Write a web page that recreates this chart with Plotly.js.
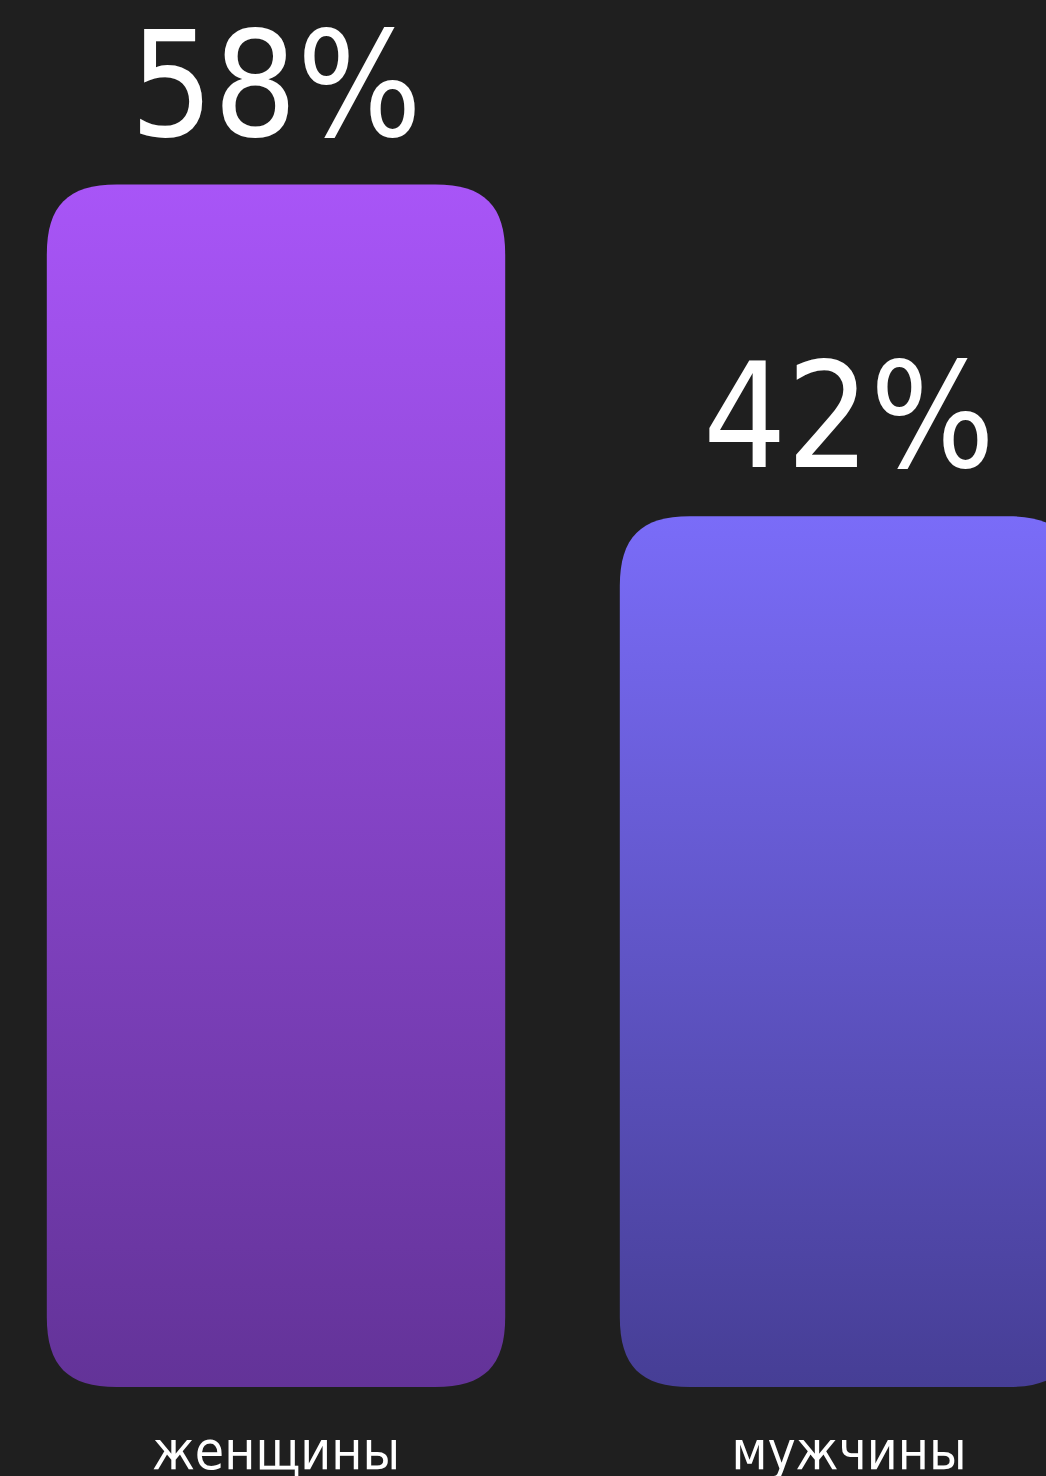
<!DOCTYPE html>
<html>
<head>
<meta charset="utf-8">
<script src="https://cdn.plot.ly/plotly-3.0.1.min.js"></script>
<style>
  html, body { margin: 0; padding: 0; background: #1f1f1f; }
  #chart { width: 1046px; height: 1476px; }
</style>
</head>
<body>
<div id="chart"></div>
<script>
// ---- data ----
var categories = ['женщины', 'мужчины'];
var values = [58, 42];
var valueLabels = ['58%', '42%'];

// ---- styles ----
var gradTop = ['#a855f7', '#7a6cf8'];
var gradBottom = ['#633398', '#463e95'];
var BG = '#1f1f1f';
var FONT = '"DejaVu Sans Condensed", "DejaVu Sans", sans-serif';

var gd = document.getElementById('chart');

var data = [{
  type: 'bar',
  x: categories,
  y: values,
  marker: { color: gradTop, line: { width: 0 } },
  hoverinfo: 'none'
}];

var annotations = categories.map(function (c, i) {
  return {
    x: c, y: values[i], xref: 'x', yref: 'y',
    text: valueLabels[i], showarrow: false,
    xanchor: 'center', yanchor: 'middle', yshift: 100,
    font: { family: FONT, size: 146, color: '#ffffff' }
  };
});

var layout = {
  width: 1046, height: 1476,
  paper_bgcolor: BG, plot_bgcolor: BG,
  margin: { l: 0, r: 0, t: 0, b: 89, pad: 0 },
  bargap: 0.2,
  showlegend: false,
  xaxis: {
    type: 'category',
    range: [-0.4817, 1.3438],
    showgrid: false, zeroline: false, showline: false, ticks: '',
    ticklabelstandoff: 28,
    tickfont: { family: FONT, size: 53, color: '#ffffff' },
    fixedrange: true
  },
  yaxis: {
    range: [0, 66.9],
    showgrid: false, zeroline: false, showline: false, ticks: '',
    showticklabels: false, fixedrange: true
  },
  annotations: annotations
};

function cornerPath(x, y, w, h, R, k) {
  var c = R * k;
  return 'M' + x + ',' + (y + R) +
    'C' + x + ',' + (y + c) + ' ' + (x + c) + ',' + y + ' ' + (x + R) + ',' + y +
    'L' + (x + w - R) + ',' + y +
    'C' + (x + w - c) + ',' + y + ' ' + (x + w) + ',' + (y + c) + ' ' + (x + w) + ',' + (y + R) +
    'L' + (x + w) + ',' + (y + h - R) +
    'C' + (x + w) + ',' + (y + h - c) + ' ' + (x + w - c) + ',' + (y + h) + ' ' + (x + w - R) + ',' + (y + h) +
    'L' + (x + R) + ',' + (y + h) +
    'C' + (x + c) + ',' + (y + h) + ' ' + x + ',' + (y + h - c) + ' ' + x + ',' + (y + h - R) + 'Z';
}

function decorate() {
  var ns = 'http://www.w3.org/2000/svg';
  var svg = gd.querySelector('svg.main-svg');
  var defs = svg.querySelector('defs') || svg.insertBefore(document.createElementNS(ns, 'defs'), svg.firstChild);
  var paths = gd.querySelectorAll('.barlayer .point path');
  paths.forEach(function (p, i) {
    var id = 'bargrad' + i;
    var lg = document.createElementNS(ns, 'linearGradient');
    lg.setAttribute('id', id);
    lg.setAttribute('x1', '0'); lg.setAttribute('y1', '0');
    lg.setAttribute('x2', '0'); lg.setAttribute('y2', '1');
    var s1 = document.createElementNS(ns, 'stop');
    s1.setAttribute('offset', '0'); s1.setAttribute('stop-color', gradTop[i]);
    var s2 = document.createElementNS(ns, 'stop');
    s2.setAttribute('offset', '1'); s2.setAttribute('stop-color', gradBottom[i]);
    lg.appendChild(s1); lg.appendChild(s2);
    defs.appendChild(lg);
    var b = p.getBBox();
    p.setAttribute('d', cornerPath(b.x, b.y, b.width, b.height, 70, 0.3));
    p.style.fill = 'url(#' + id + ')';
    p.style.fillOpacity = 1;
  });
}

Plotly.newPlot(gd, data, layout, { staticPlot: true, displayModeBar: false }).then(decorate);
</script>
</body>
</html>
